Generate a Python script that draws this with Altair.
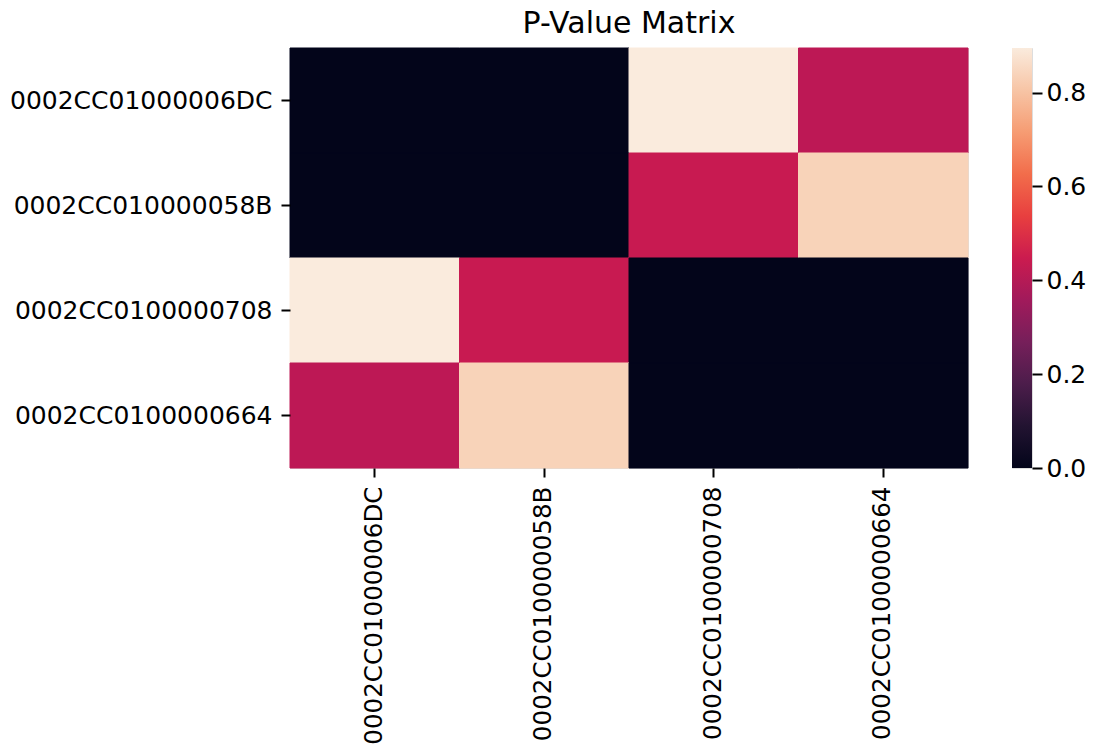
import altair as alt
import pandas as pd

# ---- data ----
labels = ["0002CC01000006DC", "0002CC010000058B", "0002CC0100000708", "0002CC0100000664"]
row_06DC = [0.0, 0.0, 0.895, 0.415]
row_058B = [0.0, 0.0, 0.44, 0.838]
row_0708 = [0.895, 0.44, 0.0, 0.0]
row_0664 = [0.415, 0.838, 0.0, 0.0]
colorbar_ticks = [0.0, 0.2, 0.4, 0.6, 0.8]

# seaborn "rocket" colormap stops (0 .. 1 in steps of 0.1)
rocket = ["#03051A", "#221331", "#4C1D4B", "#761F5A", "#A11A5B", "#CB1B4F",
          "#E83F3F", "#F26D4B", "#F69C73", "#F7C5A6", "#FAEBDD"]

FONT = "DejaVu Sans"

rows = [row_06DC, row_058B, row_0708, row_0664]
records = []
for i, r in enumerate(rows):
    for j, v in enumerate(r):
        records.append({"row": labels[i], "col": labels[j], "p": v})
df = pd.DataFrame(records)
vmin = float(df["p"].min())
vmax = float(df["p"].max())


def axis_style(size, tick=9, pad=9):
    return dict(title=None, domain=False, grid=False, ticks=True, tickSize=tick,
                tickWidth=2, tickColor="#000000", labelPadding=pad,
                labelFont=FONT, labelFontSize=size, labelColor="#000000",
                labelLimit=500)


cscale = alt.Scale(domain=[vmin, vmax], range=rocket)

heat = alt.Chart(
    df,
    title=alt.TitleParams("P-Value Matrix", font=FONT, fontSize=30, fontWeight="normal",
                          color="#000000", anchor="middle", baseline="alphabetic", offset=-15),
).mark_rect(strokeWidth=1).encode(
    x=alt.X("col:N", sort=labels, axis=alt.Axis(labelAngle=-90, **axis_style(24.6))),
    y=alt.Y("row:N", sort=labels, axis=alt.Axis(**axis_style(25.0))),
    color=alt.Color("p:Q", scale=cscale, legend=None),
    stroke=alt.Stroke("p:Q", scale=cscale, legend=None),
).properties(width=678, height=420)

gradient = {
    "gradient": "linear",
    "x1": 0, "y1": 1, "x2": 0, "y2": 0,
    "stops": [{"offset": i / (len(rocket) - 1), "color": c} for i, c in enumerate(rocket)],
}

cb_df = pd.DataFrame({"lo": [vmin], "hi": [vmax]})
cbar = alt.Chart(cb_df).mark_rect(fill=gradient, strokeWidth=0).encode(
    y=alt.Y("lo:Q", scale=alt.Scale(domain=[vmin, vmax], nice=False, zero=False),
            axis=alt.Axis(orient="right", values=colorbar_ticks, format=".1f",
                          **axis_style(25.0, tick=10, pad=4))),
    y2="hi:Q",
    x=alt.value(0),
    x2=alt.value(20),
).properties(width=20, height=420)

chart = alt.hconcat(heat, cbar, spacing=44, bounds="flush").properties(
    padding={"left": 1, "top": 0, "right": 0, "bottom": 0}
).configure_view(strokeWidth=0).configure(background="white")

chart.save("out.html", embed_options={"renderer": "svg", "actions": False})
